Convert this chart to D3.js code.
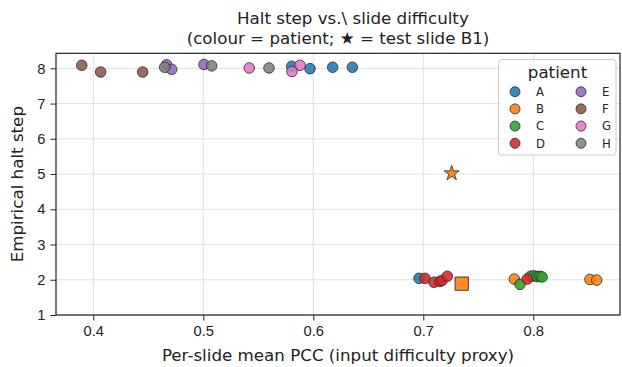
<!DOCTYPE html>
<html>
<head>
<meta charset="utf-8">
<script src="https://cdn.jsdelivr.net/npm/d3@7"></script>
<style>
    body { margin: 0; background: #fff; }
    svg { display: block; font-family: "DejaVu Sans", sans-serif; }
    .grid line { stroke: #e0e0e0; stroke-width: 1; }
    .axis path, .axis line { stroke: #222; }
    .axis text { fill: #222; font-size: 14.7px; }
</style>
</head>
<body>
<div id="chart"></div>
<script>
//patients and their colours (tab10)
var patients = ["A", "B", "C", "D", "E", "F", "G", "H"];
var colours = ["#1f77b4", "#ff7f0e", "#2ca02c", "#d62728", "#9467bd", "#8c564b", "#e377c2", "#7f7f7f"];

//per-slide mean PCC and empirical halt step, one list per patient
var pccA = [0.5804, 0.5970, 0.6176, 0.6355, 0.6961],
    haltA = [8.06, 7.99, 8.03, 8.03, 2.04];
var pccB = [0.7827, 0.8515, 0.8576],
    haltB = [2.02, 2.01, 1.99];
var pccC = [0.7879, 0.7975, 0.8005, 0.8035, 0.8060, 0.8080],
    haltC = [1.87, 2.10, 2.11, 2.09, 2.10, 2.08];
var pccD = [0.7015, 0.7097, 0.7150, 0.7170, 0.7218, 0.7945],
    haltD = [2.04, 1.93, 1.95, 1.98, 2.10, 2.02];
var pccE = [0.4667, 0.4713, 0.5006],
    haltE = [8.10, 7.97, 8.11];
var pccF = [0.3895, 0.4067, 0.4449],
    haltF = [8.085, 7.895, 7.895];
var pccG = [0.5418, 0.5879, 0.5806],
    haltG = [8.01, 8.085, 7.91];
var pccH = [0.4649, 0.5076, 0.5597],
    haltH = [8.03, 8.07, 8.01];

//test slide B1 (star) and the extra square marker
var testSlide = [0.7258, 5.02];
var squareSlide = [0.7349, 1.89];

var xTicks = [0.4, 0.5, 0.6, 0.7, 0.8];
var yTicks = [1, 2, 3, 4, 5, 6, 7, 8];

function setChart(){

    var width = 622,
        height = 367;

    var plot = {left: 56, right: 620, top: 53.3, bottom: 315};

    var svg = d3.select("#chart")
        .append("svg")
        .attr("width", width)
        .attr("height", height);

    //scales
    var x = d3.scaleLinear()
        .domain([0.3661, 0.8788])
        .range([plot.left, plot.right]);

    var y = d3.scaleLinear()
        .domain([1, 8.426])
        .range([plot.bottom, plot.top]);

    //grid lines
    var grid = svg.append("g").attr("class", "grid");
    grid.selectAll(".gx")
        .data(xTicks)
        .enter()
        .append("line")
        .attr("x1", function(d){ return x(d); })
        .attr("x2", function(d){ return x(d); })
        .attr("y1", plot.top)
        .attr("y2", plot.bottom);
    grid.selectAll(".gy")
        .data(yTicks)
        .enter()
        .append("line")
        .attr("x1", plot.left)
        .attr("x2", plot.right)
        .attr("y1", function(d){ return y(d); })
        .attr("y2", function(d){ return y(d); });

    //axes
    svg.append("g")
        .attr("class", "axis")
        .attr("transform", "translate(0," + plot.bottom + ")")
        .call(d3.axisBottom(x).tickValues(xTicks).tickFormat(d3.format(".1f")).tickSize(5.5).tickPadding(5));
    svg.append("g")
        .attr("class", "axis")
        .attr("transform", "translate(" + plot.left + ",0)")
        .call(d3.axisLeft(y).tickValues(yTicks).tickFormat(d3.format("d")).tickSize(5.5).tickPadding(5));
    svg.selectAll(".axis .domain").remove();
    svg.selectAll(".axis line").attr("stroke-width", 1);

    //scatter, one patient after another
    var pccs = [pccA, pccB, pccC, pccD, pccE, pccF, pccG, pccH],
        halts = [haltA, haltB, haltC, haltD, haltE, haltF, haltG, haltH];

    var dots = svg.append("g");
    for (var p = 0; p < patients.length; p++) {
        var rows = pccs[p].map(function(v, i){ return [v, halts[p][i]]; });
        dots.selectAll(".dot" + p)
            .data(rows)
            .enter()
            .append("circle")
            .attr("cx", function(d){ return x(d[0]); })
            .attr("cy", function(d){ return y(d[1]); })
            .attr("r", 5.3)
            .attr("fill", colours[p])
            .attr("fill-opacity", 0.88)
            .attr("stroke", "#2b2b2b")
            .attr("stroke-width", 0.8);
    }

    //square marker
    svg.append("path")
        .attr("d", d3.symbol().type(d3.symbolSquare).size(175)())
        .attr("transform", "translate(" + x(squareSlide[0]) + "," + y(squareSlide[1]) + ")")
        .attr("fill", colours[1])
        .attr("fill-opacity", 0.9)
        .attr("stroke", "#2b2b2b")
        .attr("stroke-width", 0.9);

    //star for test slide B1
    svg.append("path")
        .attr("d", d3.symbol().type(d3.symbolStar).size(72)())
        .attr("transform", "translate(" + x(testSlide[0]) + "," + y(testSlide[1]) + ")")
        .attr("fill", colours[1])
        .attr("fill-opacity", 0.95)
        .attr("stroke", "#2b2b2b")
        .attr("stroke-width", 0.8);

    //frame
    svg.append("rect")
        .attr("x", plot.left)
        .attr("y", plot.top)
        .attr("width", plot.right - plot.left)
        .attr("height", plot.bottom - plot.top)
        .attr("fill", "none")
        .attr("stroke", "#222")
        .attr("stroke-width", 1.2);

    //axis labels
    svg.append("text")
        .attr("x", (plot.left + plot.right) / 2)
        .attr("y", 361)
        .attr("text-anchor", "middle")
        .style("font-size", "16.7px")
        .attr("fill", "#222")
        .text("Per-slide mean PCC (input difficulty proxy)");
    svg.append("text")
        .attr("transform", "translate(23," + ((plot.top + plot.bottom) / 2) + ") rotate(-90)")
        .attr("text-anchor", "middle")
        .style("font-size", "16.7px")
        .attr("fill", "#222")
        .text("Empirical halt step");

    //title, two lines
    svg.append("text")
        .attr("x", 237)
        .attr("y", 24)
        .style("font-size", "16.7px")
        .attr("fill", "#222")
        .text("Halt step vs.\\ slide difficulty");
    svg.append("text")
        .attr("x", (plot.left + plot.right) / 2)
        .attr("y", 44)
        .attr("text-anchor", "middle")
        .style("font-size", "16.7px")
        .attr("fill", "#222")
        .text("(colour = patient; \u2605 = test slide B1)");

    setLegend(svg);
};

function setLegend(svg){
    var lg = svg.append("g");

    lg.append("rect")
        .attr("x", 498.5)
        .attr("y", 59.5)
        .attr("width", 117.5)
        .attr("height", 95.5)
        .attr("rx", 3)
        .attr("fill", "#fff")
        .attr("fill-opacity", 0.85)
        .attr("stroke", "#cccccc")
        .attr("stroke-width", 1);

    lg.append("text")
        .attr("x", 557.5)
        .attr("y", 77.5)
        .attr("text-anchor", "middle")
        .style("font-size", "16.7px")
        .attr("fill", "#222")
        .text("patient");

    var items = lg.selectAll(".item")
        .data(patients)
        .enter()
        .append("g")
        .attr("transform", function(d, i){
            var col = Math.floor(i / 4),
                row = i % 4;
            return "translate(" + (515 + col * 66) + "," + (91.7 + row * 17.2) + ")";
        });
    items.append("circle")
        .attr("r", 5)
        .attr("fill", function(d, i){ return colours[i]; })
        .attr("fill-opacity", 0.88)
        .attr("stroke", "#2b2b2b")
        .attr("stroke-width", 0.8);
    items.append("text")
        .attr("x", 21)
        .attr("dy", "0.36em")
        .style("font-size", "11.7px")
        .attr("fill", "#222")
        .text(function(d){ return d; });
}

window.onload = setChart();
</script>
</body>
</html>
